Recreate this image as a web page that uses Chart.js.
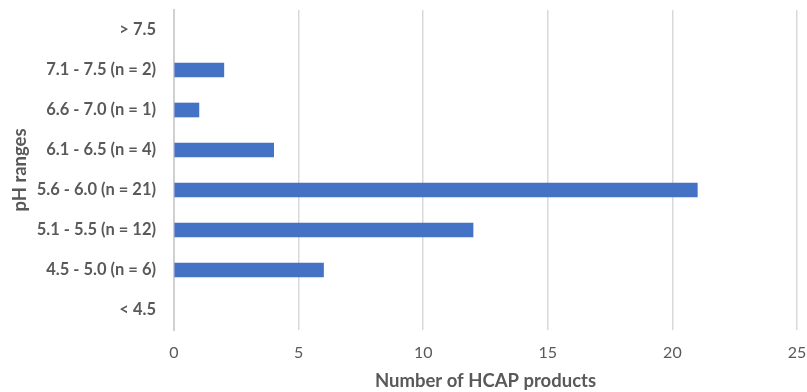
<!DOCTYPE html>
<html>
<head>
<meta charset="utf-8">
<script src="https://cdn.jsdelivr.net/npm/chart.js@4"></script>
<style>
  html, body { margin: 0; padding: 0; background: #fff; }
  #wrap { width: 807px; height: 392px; }
</style>
</head>
<body>
<div id="wrap"><canvas id="phChart"></canvas></div>
<script>
const categories = ['> 7.5', '7.1 - 7.5 (n = 2)', '6.6 - 7.0 (n = 1)', '6.1 - 6.5 (n = 4)',
  '5.6 - 6.0 (n = 21)', '5.1 - 5.5 (n = 12)', '4.5 - 5.0 (n = 6)', '< 4.5'];
const productCounts = [0, 2, 1, 4, 21, 12, 6, 0];
const xTicks = [0, 5, 10, 15, 20, 25];

const grey = '#595959';
const fontFam = 'Lato, "Open Sans", sans-serif';

const ctx = document.getElementById('phChart');

const data = {
  labels: categories,
  datasets: [{
    label: 'HCAP products',
    data: productCounts,
    backgroundColor: c => (c.raw === 0 ? 'rgba(0,0,0,0)' : '#4472C4'),
    borderWidth: 0,
    barThickness: 14
  }]
};

const config = {
  type: 'bar',
  data: data,
  options: {
    indexAxis: 'y',
    responsive: true,
    maintainAspectRatio: false,
    animation: false,
    layout: { padding: { top: 10, right: 10, left: 2, bottom: 0 } },
    plugins: { legend: { display: false }, tooltip: { enabled: false } },
    scales: {
      x: {
        min: 0,
        max: 25,
        afterBuildTicks: function(scale) {
          scale.ticks = xTicks.map(v => ({ value: v }));
        },
        afterFit: function(scale) {
          scale.height = 62;
          scale.paddingLeft = 0;
          scale.paddingRight = 0;
        },
        grid: { color: '#d9d9d9', lineWidth: 1.5, drawTicks: false },
        border: { display: false },
        ticks: { color: grey, padding: 13, font: { family: fontFam, size: 16 } },
        title: {
          display: true,
          text: 'Number of HCAP products',
          color: grey,
          padding: { top: 7, bottom: 0 },
          font: { family: fontFam, size: 18.5, weight: 'bold' }
        }
      },
      y: {
        afterFit: function(scale) {
          scale.width = 174 - 2;
          scale.paddingTop = 0;
          scale.paddingBottom = 0;
        },
        grid: { display: false, drawTicks: false },
        border: { display: true, color: '#d0d0d0', width: 2 },
        ticks: { color: grey, padding: 18, font: { family: fontFam, size: 16.5, weight: 'bold' } },
        title: {
          display: true,
          text: 'pH ranges',
          color: grey,
          padding: { top: 7, bottom: 0 },
          font: { family: fontFam, size: 18.5, weight: 'bold' }
        }
      }
    }
  }
};

var phChart = new Chart(ctx, config);
</script>
</body>
</html>
